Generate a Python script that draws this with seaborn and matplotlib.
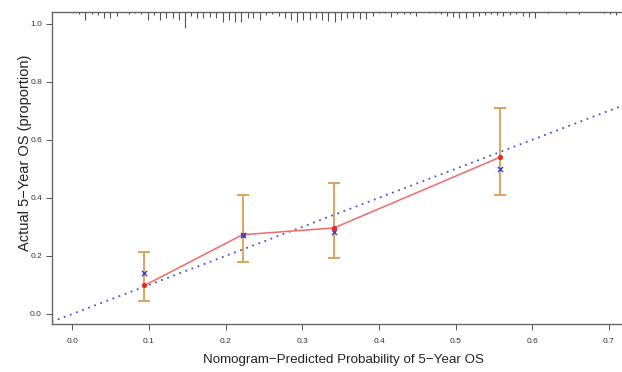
import numpy as np
import pandas as pd
import matplotlib
matplotlib.use('Agg')
import matplotlib.pyplot as plt
import seaborn as sns

sns.set_theme(style='white')
plt.rcParams['font.family'] = ['Liberation Sans', 'DejaVu Sans']

# calibration groups (predicted vs observed)
pred = [0.094, 0.222, 0.341, 0.558]
observed = [0.098, 0.273, 0.296, 0.540]
corrected = [0.140, 0.273, 0.283, 0.499]
ci_low = [0.045, 0.180, 0.194, 0.410]
ci_high = [0.215, 0.410, 0.451, 0.710]

# spike histogram of predicted probabilities (top of plot)
rug_x = [0.001, 0.009, 0.017, 0.025, 0.034, 0.041, 0.049, 0.058, 0.074, 0.082,
         0.090, 0.098, 0.106, 0.114, 0.122, 0.131, 0.139, 0.147, 0.155, 0.163,
         0.171, 0.179, 0.188, 0.196, 0.204, 0.212, 0.220, 0.229, 0.236, 0.245,
         0.252, 0.261, 0.269, 0.277, 0.285, 0.293, 0.301, 0.310, 0.318, 0.326,
         0.334, 0.342, 0.350, 0.358, 0.366, 0.375, 0.383, 0.392, 0.400, 0.408,
         0.416, 0.424, 0.432, 0.440, 0.448, 0.465, 0.473, 0.481, 0.489, 0.497,
         0.505, 0.514, 0.522, 0.530, 0.538, 0.546, 0.554, 0.562, 0.571, 0.579,
         0.588, 0.596, 0.604, 0.620, 0.644, 0.661, 0.693, 0.701, 0.709]
rug_n = [1, 2, 7.7, 1.7, 2.7, 5.3, 6, 3.3, 1.7, 1,
         2, 7.7, 2.7, 7.7, 6, 6, 7.7, 15, 3.3, 5.3,
         6, 4.3, 5.3, 10, 7.7, 10, 9.3, 6, 5.3, 7.7,
         2.7, 1.7, 3.3, 5.3, 7.7, 9.3, 7.7, 7.7, 6, 7.7,
         8.7, 9.3, 7.7, 6, 6, 6.7, 6.7, 3.3, 1, 1,
         4.3, 1.7, 1.7, 1.7, 3.3, 0.7, 1, 1.7, 3.3, 4.3,
         5.3, 6, 4.3, 3.3, 2.7, 1.7, 2.7, 3.3, 2.7, 2,
         3.3, 4.3, 5.3, 1, 2, 2, 1, 1.7, 2.7]

df = pd.DataFrame({'pred': pred, 'observed': observed, 'corrected': corrected})

fig = plt.figure(figsize=(6.22, 3.72), dpi=100)
ax = fig.add_axes([0.0831, 0.128, 0.9169, 0.8389])

xmin, xmax = -0.027, 0.717
ymin, ymax = -0.036, 1.039
ax.set_xlim(xmin, xmax)
ax.set_ylim(ymin, ymax)

# ideal line
ax.axline((0, 0), slope=1, color='#4d4de0', lw=1.3, ls=(0, (1, 2.6)), zorder=1)

# error bars
ax.errorbar(pred, observed,
            yerr=[np.array(observed) - np.array(ci_low), np.array(ci_high) - np.array(observed)],
            fmt='none', ecolor='#dea260', elinewidth=1.4, capsize=4.5, capthick=1.4, zorder=2)

sns.lineplot(data=df, x='pred', y='observed', color='#f06a6a', lw=1.1, ax=ax, zorder=3)
sns.scatterplot(data=df, x='pred', y='observed', color='#e8291c', s=14, linewidth=0, ax=ax, zorder=4)
sns.scatterplot(data=df, x='pred', y='corrected', color='#4040c8', marker='x', s=14,
                linewidth=1.0, ax=ax, zorder=5)

# spike histogram hanging from the top
spike = np.array(rug_n) * 0.0035
ax.vlines(rug_x, ymax - spike, ymax, color='#555555', lw=0.8, zorder=3)

ax.set_xticks(np.arange(0, 0.71, 0.1))
ax.set_yticks(np.arange(0, 1.01, 0.2))
ax.set_xticklabels([f'{v:.1f}' for v in np.arange(0, 0.71, 0.1)])
ax.set_yticklabels([f'{v:.1f}' for v in np.arange(0, 1.01, 0.2)])
ax.tick_params(axis='both', direction='out', length=4, width=0.7, color='#555555',
               labelsize=6, labelcolor='#333333', left=True, bottom=True)
ax.tick_params(axis='x', pad=6)
ax.tick_params(axis='y', pad=3)

for side in ['left', 'bottom', 'top']:
    ax.spines[side].set_color('#666666')
    ax.spines[side].set_linewidth(1.0)
ax.spines['right'].set_visible(False)

ax.set_xlabel('Nomogram\u2212Predicted Probability of 5\u2212Year OS', fontsize=9.6, color='#222222')
ax.set_ylabel('Actual 5\u2212Year OS (proportion)', fontsize=10.5, color='#222222')
ax.xaxis.set_label_coords(0.511, -0.094)
ax.yaxis.set_label_coords(-0.035, 0.549)

fig.savefig('out.png', dpi=100)
